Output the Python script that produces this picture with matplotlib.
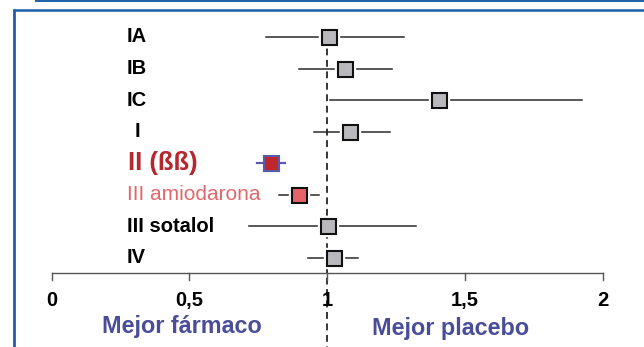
import matplotlib.pyplot as plt
from matplotlib.lines import Line2D

# forest plot data
labels = ["IA", "IB", "IC", "I", "II (ßß)", "III amiodarona", "III sotalol", "IV"]
estimate = [1.006, 1.064, 1.405, 1.083, 0.795, 0.898, 1.004, 1.024]
ci_low = [0.779, 0.898, 1.011, 0.953, 0.745, 0.826, 0.717, 0.930]
ci_high = [1.280, 1.235, 1.925, 1.229, 0.848, 0.971, 1.323, 1.113]
xticks = [0, 0.5, 1, 1.5, 2]
xtick_labels = ["0", "0,5", "1", "1,5", "2"]

fills = ["#b9b9bd", "#b9b9bd", "#b9b9bd", "#b9b9bd", "#c0272d", "#e8626a", "#b9b9bd", "#b9b9bd"]
edges = ["#111111", "#111111", "#111111", "#111111", "#5a5aa8", "#111111", "#111111", "#111111"]
label_colors = ["black", "black", "black", "black", "#b5282e", "#e4676a", "black", "black"]
label_sizes = [14.5, 14.5, 14.5, 14.5, 18.5, 15, 14.5, 14.5]
label_weights = ["bold", "bold", "bold", "bold", "bold", "normal", "bold", "bold"]
label_x = [0.272, 0.274, 0.274, 0.312, 0.276, 0.274, 0.274, 0.274]

plt.rcParams['font.family'] = ['Liberation Sans', 'DejaVu Sans']

W, H = 644, 347
fig = plt.figure(figsize=(W / 100, H / 100), dpi=100)
ax = fig.add_axes([0, 0, 1, 1])
ax.axis('off')

px_per_x = 275.5
x0_px = 51.5
ax.set_xlim(-x0_px / px_per_x, (W - x0_px) / px_per_x)
row0_px, row_step = 37, 31.5
ax.set_ylim((H - row0_px) / row_step, -row0_px / row_step)

# reference line at 1
ax.plot([1, 1], [0, 10], color="black", lw=1.1, ls=(0, (4.5, 3)), zorder=1)

# x axis drawn by hand
axis_y = 7.483
ax.plot([0, 2], [axis_y, axis_y], color="#555555", lw=1, zorder=1)
for t, tl in zip(xticks, xtick_labels):
    ax.plot([t, t], [axis_y, axis_y + 0.23], color="#555555", lw=1, zorder=1)
    ax.text(t, 8.35, tl, ha="center", va="center", fontsize=14.5,
            fontweight="bold", color="black")

ax.text(0.474, 9.2, "Mejor fármaco", ha="center", va="center", fontsize=16.8,
        fontweight="bold", color="#4a4d98")
ax.text(1.45, 9.24, "Mejor placebo", ha="center", va="center", fontsize=16.8,
        fontweight="bold", color="#4a4d98")

for i, lab in enumerate(labels):
    if lab == "II (ßß)":
        ax.plot([ci_low[i], ci_high[i]], [i, i], color=edges[i], lw=1.6, zorder=2)
    else:
        ax.plot([ci_low[i], ci_high[i]], [i, i], color="#2a2a2a", lw=1.1, zorder=2)
        # white halo gives the gap between whisker and box
        ax.plot(estimate[i], i, marker="s", ms=14.3, color="white",
                mec="white", zorder=3)
    ax.plot(estimate[i], i, marker="s", ms=10.8, mfc=fills[i],
            mec=edges[i], mew=1.5, zorder=4)
    ha = "center" if lab == "I" else "left"
    ax.text(label_x[i], i, lab, ha=ha, va="center", fontsize=label_sizes[i],
            fontweight=label_weights[i], color=label_colors[i])

# blue frame
blue = "#1d5fa9"
fig.add_artist(Line2D([14 / W, 14 / W], [0, 1 - 8.8 / H], color=blue, lw=2.0,
                      solid_capstyle="butt"))
fig.add_artist(Line2D([12.6 / W, 1], [1 - 10 / H, 1 - 10 / H], color=blue, lw=1.8,
                      solid_capstyle="butt"))
fig.add_artist(Line2D([35 / W, 1], [1 - 0.6 / H, 1 - 0.6 / H], color=blue, lw=1.4,
                      solid_capstyle="butt"))

fig.savefig("out.png", dpi=100)
